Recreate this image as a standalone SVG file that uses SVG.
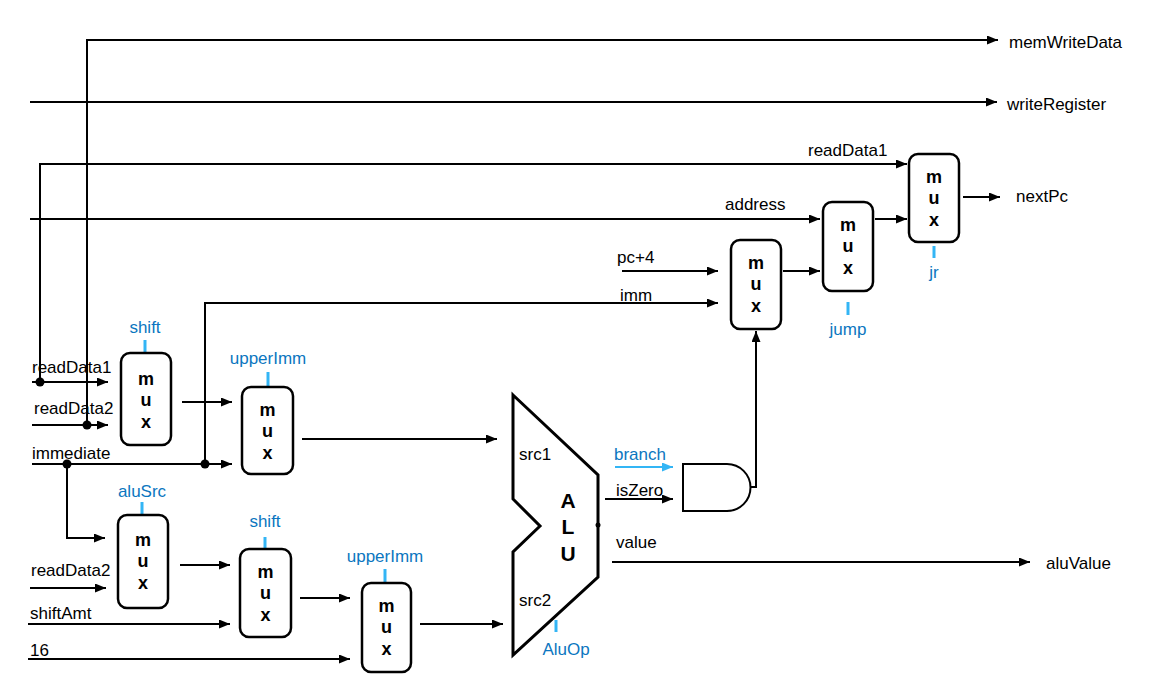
<svg xmlns="http://www.w3.org/2000/svg" width="1152" height="680" viewBox="0 0 1152 680">
<defs>
<marker id="arr" markerUnits="userSpaceOnUse" markerWidth="12" markerHeight="10" refX="11" refY="4.5" orient="auto"><path d="M0,0 L11,4.5 L0,9 z" fill="#000"/></marker>
<marker id="arrb" markerUnits="userSpaceOnUse" markerWidth="12" markerHeight="10" refX="11" refY="4.5" orient="auto"><path d="M0,0 L11,4.5 L0,9 z" fill="#33B5F5"/></marker>
</defs>
<style>
text{font-family:"Liberation Sans",Arial,sans-serif;font-size:17px;fill:#000}
.ctl{fill:#0B76C0;text-anchor:middle}
.blue{fill:#0B76C0}
.mx{font-weight:bold;font-size:18px;text-anchor:middle}
.alu{font-weight:bold;font-size:21px;text-anchor:middle}
.box{fill:#fff;stroke:#000;stroke-width:2.5}
.w{fill:none;stroke:#000;stroke-width:2}
.a{marker-end:url(#arr)}
.tick{stroke:#33B5F5;stroke-width:3}
.dot{fill:#000}
</style>
<rect width="1152" height="680" fill="#fff"/>
<g id="connectors">
<path class="w a" d="M87,425 V40 H998"/>
<path class="w a" d="M30,102 H997"/>
<path class="w a" d="M40,382 V164 H907"/>
<path class="w a" d="M30,219 H820"/>
<path class="w a" d="M32,382 H108"/>
<path class="w a" d="M32,425 H108"/>
<path class="w a" d="M32,464 H232"/>
<path class="w a" d="M205,464 V303 H718"/>
<path class="w a" d="M622,271 H718"/>
<path class="w a" d="M182,402 H232"/>
<path class="w a" d="M302,439 H497"/>
<path class="w a" d="M67,464 V538 H105"/>
<path class="w a" d="M30,588 H106"/>
<path class="w a" d="M180,565 H230"/>
<path class="w a" d="M28,624 H230"/>
<path class="w a" d="M300,598 H350"/>
<path class="w a" d="M28,659 H350"/>
<path class="w a" d="M420,624 H503"/>
<path d="M615,467 H673" fill="none" stroke="#33B5F5" stroke-width="2" marker-end="url(#arrb)"/>
<path class="w a" d="M605,499 H673"/>
<path class="w a" d="M747,487 H756 V331"/>
<path class="w a" d="M612,562 H1030"/>
<path class="w a" d="M783,271 H820"/>
<path class="w a" d="M875,219 H907"/>
<path class="w a" d="M963,197 H1000"/>
<circle class="dot" cx="40" cy="382" r="4.5"/>
<circle class="dot" cx="87" cy="425" r="4.5"/>
<circle class="dot" cx="67" cy="464" r="4.5"/>
<circle class="dot" cx="205" cy="464" r="4.5"/>
</g>
<g id="labels">
<text x="1009" y="48">memWriteData</text>
<text x="1007" y="110">writeRegister</text>
<text x="1016" y="202">nextPc</text>
<text x="808" y="156">readData1</text>
<text x="725" y="210">address</text>
<text x="617" y="263">pc+4</text>
<text x="620" y="301">imm</text>
<text x="32" y="373">readData1</text>
<text x="34" y="414">readData2</text>
<text x="32" y="459">immediate</text>
<text x="31" y="576">readData2</text>
<text x="30" y="619">shiftAmt</text>
<text x="30" y="656">16</text>
<text class="blue" x="614" y="460">branch</text>
<text x="616" y="496">isZero</text>
<text x="616" y="548">value</text>
<text x="1046" y="569">aluValue</text>
</g>
<g id="mux-shift1">
<line class="tick" x1="145" y1="340" x2="145" y2="353"/>
<text class="ctl" x="145" y="333">shift</text>
<rect class="box" x="121" y="353" width="50" height="92" rx="9"/>
<text class="mx" x="146" y="385">m</text><text class="mx" x="146" y="406">u</text><text class="mx" x="146" y="428">x</text>
</g>
<g id="mux-upperImm1">
<line class="tick" x1="268" y1="372" x2="268" y2="387"/>
<text class="ctl" x="268" y="364">upperImm</text>
<rect class="box" x="242" y="387" width="51" height="87" rx="9"/>
<text class="mx" x="267.5" y="416">m</text><text class="mx" x="267.5" y="437">u</text><text class="mx" x="267.5" y="459">x</text>
</g>
<g id="mux-aluSrc">
<line class="tick" x1="142" y1="502" x2="142" y2="515"/>
<text class="ctl" x="142" y="497">aluSrc</text>
<rect class="box" x="118" y="515" width="50" height="93" rx="9"/>
<text class="mx" x="143" y="546">m</text><text class="mx" x="143" y="567">u</text><text class="mx" x="143" y="589">x</text>
</g>
<g id="mux-shift2">
<line class="tick" x1="265" y1="537" x2="265" y2="549"/>
<text class="ctl" x="265" y="527">shift</text>
<rect class="box" x="240" y="549" width="51" height="88" rx="9"/>
<text class="mx" x="265.5" y="578">m</text><text class="mx" x="265.5" y="599">u</text><text class="mx" x="265.5" y="621">x</text>
</g>
<g id="mux-upperImm2">
<line class="tick" x1="385" y1="569" x2="385" y2="583"/>
<text class="ctl" x="385" y="562">upperImm</text>
<rect class="box" x="362" y="583" width="49" height="89" rx="9"/>
<text class="mx" x="386.5" y="612">m</text><text class="mx" x="386.5" y="633">u</text><text class="mx" x="386.5" y="655">x</text>
</g>
<g id="mux-branch">
<rect class="box" x="731" y="240" width="50" height="89" rx="9"/>
<text class="mx" x="756" y="269">m</text><text class="mx" x="756" y="290">u</text><text class="mx" x="756" y="312">x</text>
</g>
<g id="mux-jump">
<line class="tick" x1="848" y1="302" x2="848" y2="315"/>
<text class="ctl" x="848" y="335">jump</text>
<rect class="box" x="823" y="202" width="50" height="89" rx="9"/>
<text class="mx" x="848" y="231">m</text><text class="mx" x="848" y="252">u</text><text class="mx" x="848" y="274">x</text>
</g>
<g id="mux-jr">
<line class="tick" x1="934" y1="246" x2="934" y2="258"/>
<text class="ctl" x="934" y="278">jr</text>
<rect class="box" x="909" y="154" width="50" height="88" rx="9"/>
<text class="mx" x="934" y="183">m</text><text class="mx" x="934" y="204">u</text><text class="mx" x="934" y="226">x</text>
</g>
<g id="alu">
<line class="tick" x1="556" y1="620" x2="556" y2="632"/>
<text class="ctl" x="566" y="655">AluOp</text>
<polygon points="513,395 598,475 598,577 513,655 513,552 540,526 513,499" fill="#fff" stroke="#000" stroke-width="3" stroke-linejoin="miter"/>
<circle cx="598" cy="525" r="2.5" fill="#000"/>
<text x="519" y="460">src1</text>
<text x="519" y="606">src2</text>
<text class="alu" x="568" y="508">A</text>
<text class="alu" x="568" y="534">L</text>
<text class="alu" x="568" y="561">U</text>
</g>
<g id="and-gate">
<path d="M683,464 H727 A23.5,23.5 0 0 1 727,511 H683 Z" fill="#fff" stroke="#000" stroke-width="2"/>
</g>
</svg>
